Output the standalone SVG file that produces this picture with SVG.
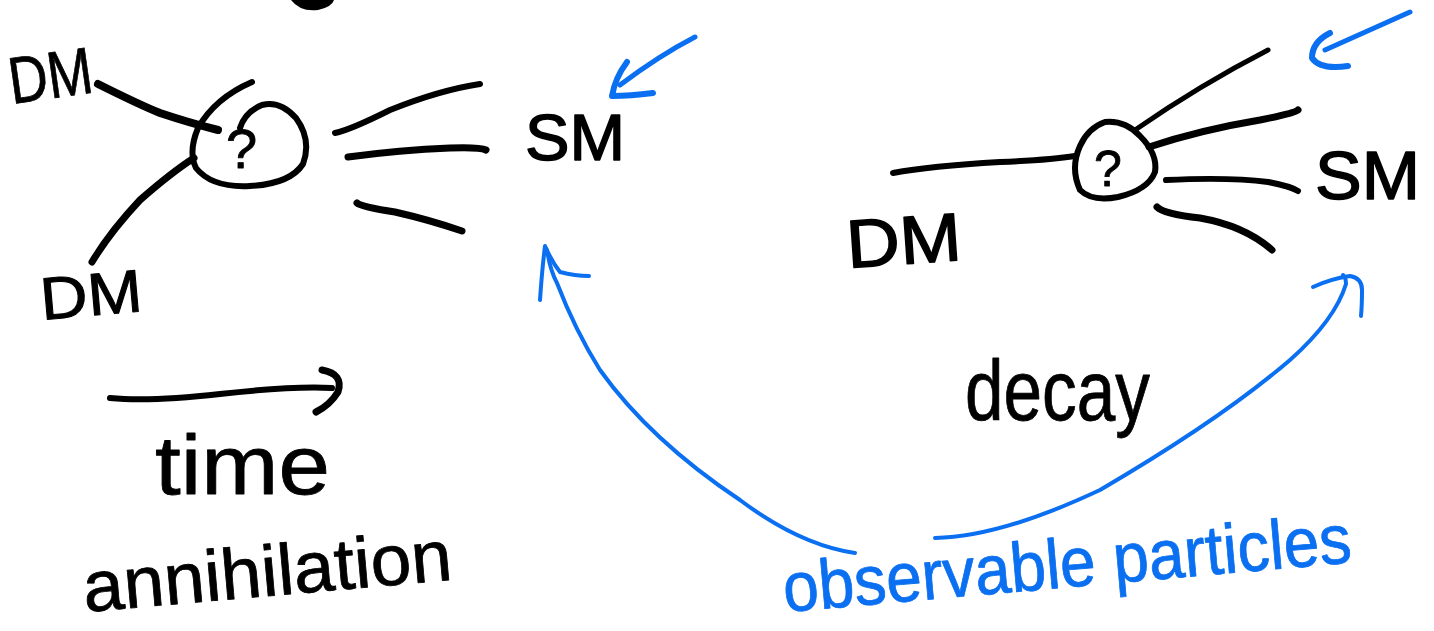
<svg xmlns="http://www.w3.org/2000/svg" width="1434" height="631" viewBox="0 0 1434 631">
  <style>
    .ink { fill: none; stroke: #000; stroke-linecap: round; stroke-linejoin: round; }
    .blue { fill: none; stroke: #0a6ff0; stroke-linecap: round; stroke-linejoin: round; }
    .hand { font-family: "Liberation Sans", "DejaVu Sans", sans-serif; fill: #000; stroke: #000; stroke-linejoin: round; }
    .handb { font-family: "Liberation Sans", "DejaVu Sans", sans-serif; fill: #0a6ff0; stroke: #0a6ff0; stroke-linejoin: round; }
  </style>
  <rect width="1434" height="631" fill="#fff"/>

  <!-- stray stroke at the top edge -->
  <path d="M291 0 Q300 12 318 10 Q332 7 334 0 Z" fill="#000"/>

  <!-- annihilation vertex -->
  <g id="vertex-annihilation">
    <path class="ink" stroke-width="6" d="M252 82 Q215 98 198 128 Q188 152 196 168 Q212 188 250 186 Q290 184 303 164 Q312 140 296 118 Q280 100 262 105 Q245 112 240 128"/>
    <text class="hand" x="226" y="168" font-size="56" stroke-width="0.8">?</text>
  </g>

  <g id="label-dm-top">
    <text class="hand" x="12" y="104" font-size="66" stroke-width="0.8" textLength="84" lengthAdjust="spacingAndGlyphs" transform="rotate(-8 12 104)">DM</text>
  </g>
  <g id="label-dm-bottom">
    <text class="hand" x="42" y="320" font-size="60" stroke-width="1" textLength="102" lengthAdjust="spacingAndGlyphs" transform="rotate(-5 42 320)">DM</text>
  </g>
  <g id="label-sm-left">
    <text class="hand" x="525" y="160" font-size="64" stroke-width="1.5" textLength="100" lengthAdjust="spacingAndGlyphs">SM</text>
  </g>

  <!-- decay vertex -->
  <g id="vertex-decay">
    <path class="ink" stroke-width="6" d="M1105 122 Q1088 128 1080 146 Q1070 168 1080 190 Q1092 202 1118 197 Q1148 190 1155 172 Q1158 154 1140 136 Q1125 120 1105 122 Z"/>
    <text class="hand" x="1094" y="186" font-size="50" stroke-width="0.8">?</text>
  </g>
  <g id="label-dm-right">
    <text class="hand" x="848" y="268" font-size="68" stroke-width="1.5" textLength="115" lengthAdjust="spacingAndGlyphs" transform="rotate(-4 848 268)">DM</text>
  </g>
  <g id="label-sm-right">
    <text class="hand" x="1315" y="199" font-size="68" stroke-width="1.5" textLength="105" lengthAdjust="spacingAndGlyphs">SM</text>
  </g>

  <g id="label-time">
    <text class="hand" x="155" y="494" font-size="84" stroke-width="0.8" textLength="175" lengthAdjust="spacingAndGlyphs">time</text>
  </g>
  <g id="label-annihilation">
    <text class="hand" x="85" y="612" font-size="72" stroke-width="0.8" textLength="370" lengthAdjust="spacingAndGlyphs" transform="rotate(-5 85 612)">annihilation</text>
  </g>
  <g id="label-decay">
    <text class="hand" x="965" y="420" font-size="86" stroke-width="0.8" textLength="185" lengthAdjust="spacingAndGlyphs">decay</text>
  </g>
  <g id="label-observable">
    <text class="handb" x="785" y="612" font-size="70" stroke-width="0.8" textLength="570" lengthAdjust="spacingAndGlyphs" transform="rotate(-5 785 612)">observable particles</text>
  </g>

  <g id="connectors">
    <!-- annihilation: incoming DM lines -->
    <path class="ink" stroke-width="8" d="M98 84 Q140 105 160 113 Q190 123 218 130"/>
    <path class="ink" stroke-width="7" d="M92 262 Q110 232 140 200 Q172 172 194 158"/>
    <!-- annihilation: outgoing SM lines -->
    <path class="ink" stroke-width="6" d="M335 133 Q350 130 390 110 Q440 90 480 84"/>
    <path class="ink" stroke-width="7" d="M348 157 Q400 150 450 148 Q480 147 486 150"/>
    <path class="ink" stroke-width="7" d="M357 203 Q362 207 395 212 Q430 220 462 231"/>

    <!-- decay: incoming DM line -->
    <path class="ink" stroke-width="6" d="M893 173 Q930 166 1000 162 Q1050 160 1075 156"/>
    <!-- decay: outgoing SM lines -->
    <path class="ink" stroke-width="5" d="M1135 130 Q1200 85 1268 50"/>
    <path class="ink" stroke-width="7" d="M1149 147 Q1200 130 1260 120 Q1295 113 1298 110"/>
    <path class="ink" stroke-width="6" d="M1166 180 Q1230 177 1268 182 Q1290 186 1298 191"/>
    <path class="ink" stroke-width="7" d="M1157 207 Q1164 214 1200 218 Q1245 226 1272 250"/>

    <!-- time arrow -->
    <path class="ink" stroke-width="6" d="M110 398 Q150 402 220 394 Q290 386 332 388"/>
    <path class="ink" stroke-width="7" d="M322 370 Q344 374 338 392 Q330 405 316 412"/>

    <!-- blue pointers to SM -->
    <path class="blue" stroke-width="5" d="M695 37 Q660 55 620 85"/>
    <path class="blue" stroke-width="6" d="M627 62 Q615 78 612 96 Q630 96 653 93"/>
    <path class="blue" stroke-width="5" d="M1410 12 Q1370 30 1325 50"/>
    <path class="blue" stroke-width="6" d="M1330 33 Q1312 42 1312 58 Q1320 70 1348 66"/>

    <!-- blue arrows from observable particles -->
    <path class="blue" stroke-width="4" d="M855 553 Q800 545 740 500 Q650 440 600 370 Q575 330 557 283 Q550 270 547 250"/>
    <path class="blue" stroke-width="4" d="M540 300 Q542 270 545 246 Q552 262 560 272 Q575 276 589 276"/>
    <path class="blue" stroke-width="4" d="M935 538 Q1000 537 1100 490 Q1220 420 1290 360 Q1335 320 1346 284 Q1346 277 1343 275"/>
    <path class="blue" stroke-width="4" d="M1313 287 Q1330 279 1350 276 Q1362 278 1362 290 Q1362 305 1361 316"/>
  </g>
</svg>
